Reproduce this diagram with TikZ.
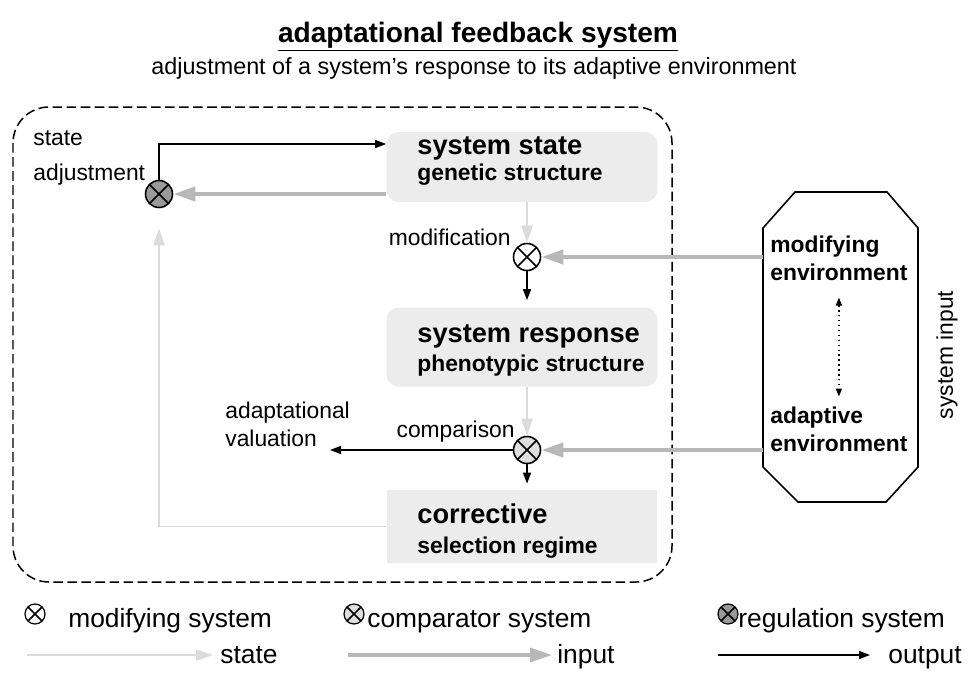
\documentclass[tikz,border=0pt]{standalone}
\usepackage{fontspec}
\setmainfont{Liberation Sans}
\usetikzlibrary{arrows.meta}
\definecolor{boxgray}{gray}{0.925}
\definecolor{stategray}{gray}{0.86}
\definecolor{inputgray}{gray}{0.72}
\definecolor{compgray}{gray}{0.87}
\definecolor{reggray}{gray}{0.6}
\tikzset{
  mixer/.style={circle,draw,line width=0.9pt,inner sep=0pt,minimum size=0.54cm,
    path picture={\draw[line width=0.9pt] (path picture bounding box.north west)--(path picture bounding box.south east)
      (path picture bounding box.north east)--(path picture bounding box.south west);}},
  sbox/.style={fill=boxgray,rounded corners=0.24cm,minimum width=5.42cm,inner sep=0pt},
  bigtxt/.style={anchor=base west,inner sep=0pt,font=\bfseries\fontsize{15.5}{18}\selectfont},
  smalltxt/.style={anchor=base west,inner sep=0pt,font=\bfseries\fontsize{13}{15}\selectfont},
  lbl/.style={inner sep=0pt,font=\fontsize{13}{15}\selectfont},
  legtxt/.style={anchor=base west,inner sep=0pt,font=\fontsize{15}{18}\selectfont},
  statearrow/.style={draw=stategray,line width=1.1pt,-{Triangle[length=0.34cm,width=0.22cm]}},
  inarrow/.style={draw=inputgray,line width=2.5pt,-{Triangle[length=0.44cm,width=0.28cm]}},
  outarrow/.style={line width=0.8pt,-{Triangle[length=0.22cm,width=0.16cm]}}
}
\begin{document}
\begin{tikzpicture}[x=0.02cm,y=-0.02cm]
    \useasboundingbox (0,0) rectangle (969,673);
    %% title
    \node[inner sep=0pt,anchor=base,font=\bfseries\fontsize{16}{19}\selectfont] (title) at (478,42) {\underline{adaptational feedback system}};
    \node[lbl,anchor=base,font=\fontsize{13.3}{15}\selectfont] (subtitle) at (474,74) {adjustment of a system’s response to its adaptive environment};
    %% system border
    \draw[line width=0.85pt,dash pattern=on 5.5pt off 2.5pt,rounded corners=0.72cm] (13,107) rectangle (672,582);
    %% boxes
    \node[sbox,minimum height=1.4cm] (state) at (522,167) {};
    \node[sbox,minimum height=1.58cm] (resp) at (522,347) {};
    \node[sbox,minimum height=1.46cm,sharp corners] (corr) at (522,526.5) {};
    \foreach \n/\y/\z/\a/\b in {s/154/180/system state/genetic structure,
        r/342/371/system response/phenotypic structure,
        c/523/553/corrective/selection regime}{
        \node[bigtxt] (\n big) at (417,\y) {\a};
        \node[smalltxt] (\n small) at (417,\z) {\b};
    }
    %% mixers
    \node[mixer,fill=white] (mod) at (527,257) {};
    \node[mixer,fill=compgray] (comp) at (527,450) {};
    \node[mixer,fill=reggray] (reg) at (159,194) {};
    %% labels
    \node[lbl,anchor=base west] (stl) at (33,145) {state};
    \node[lbl,anchor=base west] (adjl) at (33,180) {adjustment};
    \node[lbl,anchor=base east] (modl) at (511,245) {modification};
    \node[lbl,anchor=base west] (adl) at (225,418) {adaptational};
    \node[lbl,anchor=base west] (vall) at (225,446) {valuation};
    \node[lbl,anchor=base east] (cmpl) at (515,437) {comparison};
    %% environment
    \draw[line width=0.9pt] (795,192) -- (887,192) -- (918,228) -- (918,467) -- (886,502)
        -- (798,502) -- (763,467) -- (763,228) -- cycle;
    \coordinate (modenv) at (763,257);
    \coordinate (adenv) at (763,450);
    \coordinate (val) at (330,450);
    \node[smalltxt] (modt) at (770,252) {modifying};
    \node[smalltxt] (modt2) at (770,280) {environment};
    \node[smalltxt] (adt) at (770,423) {adaptive};
    \node[smalltxt] (adt2) at (770,451) {environment};
    \draw[dotted,line width=0.8pt,{Triangle[length=0.16cm,width=0.12cm]}-{Triangle[length=0.16cm,width=0.12cm]},
        shorten <=0.34cm,shorten >=0.19cm] (modt2.south) -- (modt2.south |- adt.north);
    \node[lbl,rotate=90] (sysin) at (947,355) {system input};
    %% connectors
    \draw[outarrow] (reg.north) |- ([yshift=0.46cm]state.west);
    \draw[inarrow] (state.west |- reg) -- (reg);
    \draw[statearrow] (state.south -| mod) -- (mod);
    \draw[inarrow] (modenv) -- (mod);
    \draw[outarrow,shorten >=0.14cm] (mod) -- (resp.north -| mod);
    \draw[statearrow] (resp.south -| comp) -- (comp);
    \draw[inarrow] (adenv) -- (comp);
    \draw[outarrow] (comp) -- (val);
    \draw[outarrow,shorten >=0.12cm] (comp) -- (corr.north -| comp);
    \draw[statearrow,shorten >=0.4cm] (corr.west) -| (reg);
    %% legend
    \foreach \n/\x/\c/\tx/\t in {lm/35/white/68/modifying system,
        lc/354/compgray/367/comparator system,
        lr/728/reggray/738/regulation system}{
        \node[mixer,fill=\c,minimum size=0.4cm,line width=0.7pt] (\n) at (\x,614) {};
        \node[legtxt] (\n txt) at (\tx,627) {\t};
    }
    \coordinate (ls) at (27,655);
    \coordinate (li) at (348,655);
    \coordinate (lo) at (718,655);
    \node[legtxt] (lstxt) at (220,663) {state};
    \node[legtxt] (litxt) at (557,663) {input};
    \node[legtxt] (lotxt) at (888,663) {output};
    \draw[statearrow,shorten >=0.14cm] (ls) -- (ls -| lstxt.west);
    \draw[inarrow,line width=2pt,shorten >=0.1cm] (li) -- (li -| litxt.west);
    \draw[outarrow,shorten >=0.36cm] (lo) -- (lo -| lotxt.west);
\end{tikzpicture}
\end{document}
